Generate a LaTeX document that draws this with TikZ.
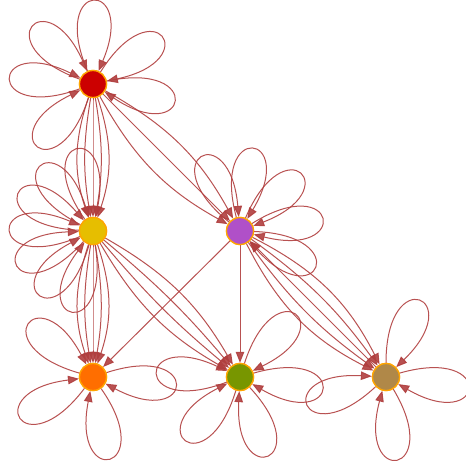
\documentclass[tikz,border=0pt]{standalone}
\usetikzlibrary{arrows.meta}
\definecolor{ecol}{RGB}{176,62,62}
\definecolor{bcol}{RGB}{255,165,0}
\definecolor{cA}{RGB}{204,0,0}
\definecolor{cB}{RGB}{230,190,0}
\definecolor{cC}{RGB}{176,80,200}
\definecolor{cD}{RGB}{255,110,0}
\definecolor{cE}{RGB}{120,150,0}
\definecolor{cF}{RGB}{176,136,72}
\begin{document}
\begin{tikzpicture}[x=1pt,y=1pt,
  vtx/.style={circle,draw=bcol,line width=1.3pt,minimum size=27pt,inner sep=0pt},
  edg/.style={draw=ecol,line width=1pt,opacity=0.9,-{Triangle[length=11pt,width=8.5pt]}}]
\useasboundingbox (0,0) rectangle (466,461);
\coordinate (pA) at (93,377);
\coordinate (pB) at (93,230);
\coordinate (pC) at (240,230);
\coordinate (pD) at (93,84);
\coordinate (pE) at (240,84);
\coordinate (pF) at (386,84);
\node[vtx,fill=cA] (A) at (pA) {};
\node[vtx,fill=cB] (B) at (pB) {};
\node[vtx,fill=cC] (C) at (pC) {};
\node[vtx,fill=cD] (D) at (pD) {};
\node[vtx,fill=cE] (E) at (pE) {};
\node[vtx,fill=cF] (F) at (pF) {};
% self loops
\foreach \n/\angs in {A/{90,137,35,177,-11,229},
                      B/{102,130,154,180,205,231,256},
                      C/{118,82,44,9,-25},
                      D/{141,210,282,355},
                      E/{49,178,353,230,290},
                      F/{67,353,278,200}}{
  \foreach \a in \angs {
    \pgfmathsetmacro\ao{\a+23}
    \pgfmathsetmacro\ai{\a-23}
    \draw[edg] (\n) to[out=\ao,in=\ai,distance=101pt] (\n);
  }
}
% multi-edges
\foreach \t in {0,9.5,-9.5,18.5,-18.5} {
  \draw[edg] (A) to[bend left=\t] (B);
  \draw[edg] (B) to[bend left=\t] (D);
}
\foreach \t in {0,16,-16} {
  \draw[edg] (A) to[bend left=\t] (C);
}
\foreach \t in {5,-5,15,-15} {
  \draw[edg] (B) to[bend left=\t] (E);
}
\draw[edg] (C) -- (D);
\draw[edg] (C) -- (E);
\foreach \t in {9,-9,18,-18} {
  \draw[edg] (C) to[bend left=\t] (F);
}
\draw[edg] (F) -- (C);
% nodes on top
\node[vtx,fill=cA] at (pA) {};
\node[vtx,fill=cB] at (pB) {};
\node[vtx,fill=cC] at (pC) {};
\node[vtx,fill=cD] at (pD) {};
\node[vtx,fill=cE] at (pE) {};
\node[vtx,fill=cF] at (pF) {};
\end{tikzpicture}
\end{document}
